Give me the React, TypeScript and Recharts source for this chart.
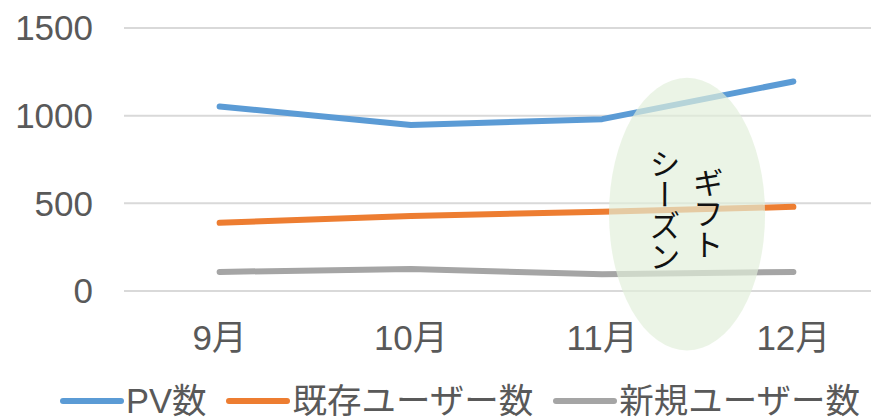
import { LineChart, Line, XAxis, YAxis, CartesianGrid, Legend, ReferenceArea } from 'recharts';

const months = ['9月', '10月', '11月', '12月'];
const pvCounts = [1052, 947, 980, 1195];
const existingUsers = [389, 428, 452, 480];
const newUsers = [109, 125, 95, 109];
const yTicks = [0, 500, 1000, 1500];

const seriesKeys = ['pv', 'existing', 'fresh'];
const seriesNames = ['PV数', '既存ユーザー数', '新規ユーザー数'];

const seasonLabel = ['ギフト', 'シーズン'];
const seasonFrom = '11月';
const seasonTo = '12月';
const seasonTop = 1216;
const seasonBottom = -339;

const FONT = '"Liberation Sans", Arial, "Noto Sans CJK JP", sans-serif';
const TEXT = '#595959';

const data = months.map((m, i) => ({
  month: m,
  pv: pvCounts[i],
  existing: existingUsers[i],
  fresh: newUsers[i],
}));

// 楕円の注記（ギフトシーズン）: 11月〜12月の帯の中に置く
const SeasonShape = (props: any) => {
  const { x, y, width, height } = props;
  if (x == null || y == null) return null;
  const cx = x + width * 0.472;
  const cy = y + height / 2;
  const rx = width * 0.204;
  const ry = height / 2;
  return (
    <g>
      <ellipse cx={cx} cy={cy} rx={rx} ry={ry} fill="#E2EFDA" fillOpacity={0.68} />
      <text
        x={cx + 21}
        y={cy - 1}
        textAnchor="middle"
        fontSize={31}
        fill="#111"
        style={{ writingMode: 'vertical-rl', fontFamily: '"Noto Sans CJK JP", sans-serif' }}
      >
        {seasonLabel[0]}
      </text>
      <text
        x={cx - 22}
        y={cy - 4}
        textAnchor="middle"
        fontSize={31}
        fill="#111"
        style={{ writingMode: 'vertical-rl', fontFamily: '"Noto Sans CJK JP", sans-serif' }}
      >
        {seasonLabel[1]}
      </text>
    </g>
  );
};

const renderLegend = (props: any) => {
  const payload = [...(props.payload || [])].sort(
    (a: any, b: any) => seriesKeys.indexOf(a.dataKey) - seriesKeys.indexOf(b.dataKey)
  );
  return (
    <div style={{ display: 'flex', justifyContent: 'center', alignItems: 'center', height: 38, paddingTop: 2, paddingLeft: 31, fontFamily: FONT }}>
      {payload.map((entry: any, i: number) => (
        <div key={`legend-${i}`} style={{ display: 'flex', alignItems: 'center', marginRight: i < payload.length - 1 ? 20 : 0 }}>
          <svg width={64} height={10} style={{ marginRight: 2 }}>
            <line x1={3} y1={5} x2={61} y2={5} stroke={entry.color} strokeWidth={6} strokeLinecap="round" />
          </svg>
          <span style={{ fontSize: 34.5, color: TEXT, lineHeight: '30px' }}>{entry.value}</span>
        </div>
      ))}
    </div>
  );
};

export default function App() {
  return (
    <div style={{ position: 'absolute', left: 0, top: 0, width: 871, height: 420, overflow: 'hidden', background: '#fff' }}>
      <LineChart width={920} height={420} data={data} margin={{ top: 28, right: 31, bottom: 0, left: 0 }}>
        <CartesianGrid vertical={false} stroke="#D9D9D9" strokeWidth={2} />
        <XAxis
          dataKey="month"
          scale="band"
          axisLine={false}
          tickLine={false}
          tickSize={0}
          tickMargin={34}
          height={89}
          tick={{ fontSize: 35, fill: TEXT, fontFamily: FONT }}
        />
        <YAxis
          domain={[0, 1500]}
          ticks={yTicks}
          axisLine={false}
          tickLine={false}
          tickSize={0}
          tickMargin={31}
          width={124}
          tick={{ fontSize: 35, fill: TEXT, fontFamily: FONT }}
        />
        <Line dataKey={seriesKeys[0]} name={seriesNames[0]} stroke="#5B9BD5" strokeWidth={6} strokeLinecap="round" strokeLinejoin="round" dot={false} isAnimationActive={false} />
        <Line dataKey={seriesKeys[1]} name={seriesNames[1]} stroke="#ED7D31" strokeWidth={6} strokeLinecap="round" strokeLinejoin="round" dot={false} isAnimationActive={false} />
        <Line dataKey={seriesKeys[2]} name={seriesNames[2]} stroke="#A5A5A5" strokeWidth={6} strokeLinecap="round" strokeLinejoin="round" dot={false} isAnimationActive={false} />
        <ReferenceArea
          x1={seasonFrom}
          x2={seasonTo}
          y1={seasonBottom}
          y2={seasonTop}
          ifOverflow="visible"
          zIndex={1000}
          shape={SeasonShape}
        />
        <Legend verticalAlign="bottom" height={40} content={renderLegend} />
      </LineChart>
    </div>
  );
}
